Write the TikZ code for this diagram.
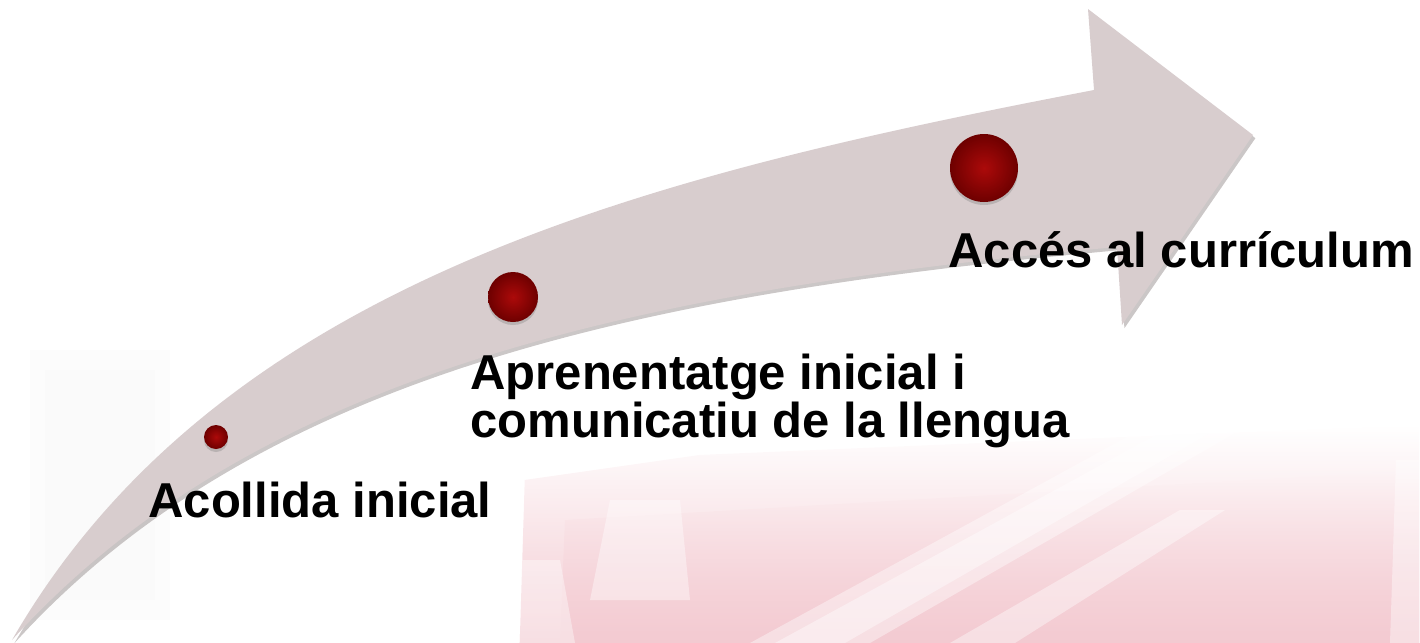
\documentclass[tikz,border=0pt]{standalone}
\usepackage{fontspec}
\setmainfont{Liberation Sans}
\usepackage{xcolor}
\usetikzlibrary{positioning,fadings,shadows}
\definecolor{bandfill}{RGB}{216,205,206}
\definecolor{bandshadow}{RGB}{140,130,130}
\definecolor{balldark}{RGB}{110,0,0}
\definecolor{ballmid}{RGB}{172,10,10}
\definecolor{markpink}{RGB}{243,202,209}
\definecolor{markgray}{RGB}{232,232,232}
\tikzfading[name=softtop, top color=transparent!100, middle color=transparent!10, bottom color=transparent!0]

\begin{document}
\begin{tikzpicture}[x=0.5pt, y=-0.5pt,
  stage/.style={circle, inner sep=0pt, inner color=ballmid, outer color=balldark,
    drop shadow={shadow xshift=0pt, shadow yshift=-1.5pt, opacity=.35}},
  stagelabel/.style={anchor=base west, inner sep=0pt, align=left,
    font=\fontsize{24.5}{22.5}\selectfont\bfseries},
  glint/.style={white, opacity=.4}]
\useasboundingbox (0,0) rectangle (1420,643);

% faded logo behind the picture
\fill[markgray, opacity=.12] (30,350) rectangle (170,620);
\fill[markgray, opacity=.12] (45,370) rectangle (155,600);
\fill[markpink, path fading=softtop] (520,643) -- (525,480) -- (700,455) -- (1100,438) -- (1420,425) -- (1420,643) -- cycle;
\fill[markpink, opacity=.5, path fading=softtop] (560,643) -- (565,520) -- (1420,470) -- (1420,643) -- cycle;
\fill[glint] (750,643) -- (870,643) -- (1240,430) -- (1140,430) -- cycle;
\fill[glint] (775,643) -- (845,643) -- (1215,430) -- (1165,430) -- cycle;
\fill[glint] (950,643) -- (1015,643) -- (1225,510) -- (1180,510) -- cycle;
\fill[glint] (1390,643) -- (1420,643) -- (1420,460) -- (1396,460) -- cycle;
\fill[glint] (590,600) -- (690,600) -- (680,500) -- (610,500) -- cycle;
\fill[glint] (520,643) -- (575,643) -- (560,560) -- (520,560) -- cycle;

% the curved arrow
\fill[bandfill, preaction={fill=bandshadow, opacity=.45, transform canvas={shift={(1.2pt,-1.6pt)}}}]
  (12,640) .. controls (220,280) and (650,175) .. (1094,90)
  -- (1088,9) -- (1253,135) -- (1122,325) -- (1117,247)
  .. controls (640,290) and (255,372) .. (12,640)
  -- cycle;

% stages
\node[stage, minimum size=12pt] (ball1) at (216,437) {};
\node[stage, minimum size=25pt] (ball2) at (513,297) {};
\node[stage, minimum size=34pt] (ball3) at (984,168) {};

\node[stagelabel] (label1) at (148,517) {Acollida inicial};
\node[stagelabel] (label2) at (470,437) {Aprenentatge inicial i\\comunicatiu de la llengua};
\node[stagelabel] (label3) at (948,267) {Accés al currículum};
\end{tikzpicture}
\end{document}
